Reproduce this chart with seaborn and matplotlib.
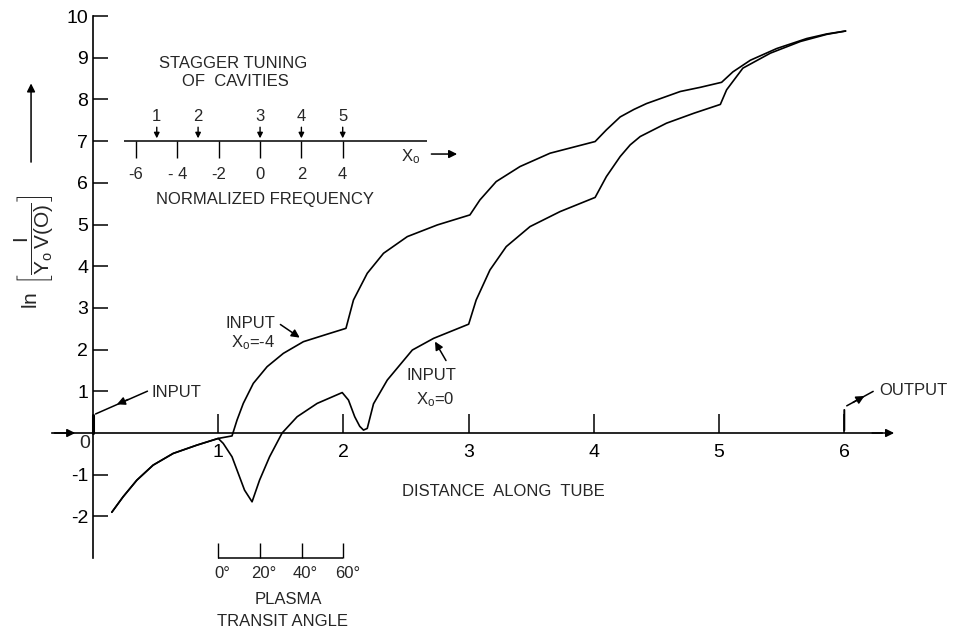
import pandas as pd
import matplotlib.pyplot as plt
import seaborn as sns

# curve points (distance along tube, ln gain)
shared_dist = [0.15, 0.24, 0.35, 0.48, 0.64, 0.83, 1.00]
shared_gain = [-1.90, -1.53, -1.13, -0.77, -0.49, -0.29, -0.13]

xm4_dist = [1.11, 1.15, 1.20, 1.28, 1.39, 1.52, 1.68, 1.87, 2.02, 2.08, 2.19, 2.32,
            2.51, 2.75, 3.01, 3.09, 3.22, 3.41, 3.65, 4.01, 4.10, 4.21, 4.32, 4.42,
            4.69, 4.85, 5.02, 5.11, 5.25, 5.46, 5.70, 5.86, 6.01]
xm4_gain = [-0.07, 0.31, 0.71, 1.19, 1.59, 1.91, 2.19, 2.37, 2.51, 3.19, 3.83, 4.31,
            4.71, 4.99, 5.23, 5.59, 6.03, 6.39, 6.71, 6.99, 7.27, 7.58, 7.76, 7.90,
            8.19, 8.29, 8.41, 8.66, 8.94, 9.22, 9.46, 9.57, 9.64]

x0_dist = [1.04, 1.11, 1.16, 1.21, 1.27, 1.33, 1.41, 1.51, 1.63, 1.79, 1.99, 2.04,
           2.09, 2.13, 2.16, 2.19, 2.24, 2.35, 2.55, 2.72, 3.00, 3.06, 3.17, 3.30,
           3.49, 3.73, 4.01, 4.10, 4.21, 4.29, 4.37, 4.58, 4.80, 5.01, 5.06, 5.19,
           5.41, 5.65, 5.86, 6.01]
x0_gain = [-0.25, -0.57, -0.97, -1.37, -1.65, -1.13, -0.57, 0.00, 0.39, 0.71, 0.97, 0.79,
           0.39, 0.16, 0.07, 0.11, 0.70, 1.27, 1.99, 2.27, 2.61, 3.19, 3.91, 4.47,
           4.95, 5.31, 5.65, 6.15, 6.63, 6.91, 7.11, 7.43, 7.67, 7.88, 8.23, 8.75,
           9.11, 9.39, 9.56, 9.64]

y_ticks = [-2, -1, 1, 2, 3, 4, 5, 6, 7, 8, 9, 10]
x_ticks = [1, 2, 3, 4, 5, 6]

# stagger tuning inset
freq_ticks = [-6, -4, -2, 0, 2, 4]
freq_labels = ["-6", "- 4", "-2", "0", "2", "4"]
cavity_freq = [-5, -3, 0, 2, 4]
cavity_labels = ["1", "2", "3", "4", "5"]

# plasma transit angle scale
angle_ticks = [0, 20, 40, 60]

df = pd.concat([
    pd.DataFrame({"distance": shared_dist + xm4_dist,
                  "gain": shared_gain + xm4_gain, "input": "X0=-4"}),
    pd.DataFrame({"distance": shared_dist + x0_dist,
                  "gain": shared_gain + x0_gain, "input": "X0=0"}),
])

sns.set_theme(style="white")
plt.rcParams["font.family"] = ["Liberation Sans", "DejaVu Sans"]
plt.rcParams["axes.unicode_minus"] = False
plt.rcParams["mathtext.fontset"] = "custom"
plt.rcParams["mathtext.rm"] = "Liberation Sans"
plt.rcParams["mathtext.it"] = "Liberation Sans"

fig = plt.figure(figsize=(9.57, 6.35), dpi=100)
ax = fig.add_axes([0, 0, 1, 1])

sns.lineplot(data=df, x="distance", y="gain", hue="input",
             palette={"X0=-4": "black", "X0=0": "black"},
             estimator=None, sort=False, lw=1.2, legend=False, ax=ax)

ax.set_xlim(-0.743, 6.90)
ax.set_ylim(-4.844, 10.384)
ax.set_xlabel("")
ax.set_ylabel("")

for s in ["top", "right"]:
    ax.spines[s].set_visible(False)
ax.spines["left"].set_position(("data", 0))
ax.spines["left"].set_bounds(-3, 10)
ax.spines["bottom"].set_position(("data", 0))
ax.spines["bottom"].set_bounds(-0.33, 6.3)
for s in ["left", "bottom"]:
    ax.spines[s].set_color("black")
    ax.spines[s].set_linewidth(1.2)

ax.set_yticks(y_ticks)
ax.set_yticklabels([str(v) for v in y_ticks])
ax.set_xticks(x_ticks)
ax.set_xticklabels([str(v) for v in x_ticks])
ax.tick_params(axis="y", direction="in", length=11, width=1.1, pad=3.5,
               labelsize=14, colors="black", left=True)
ax.tick_params(axis="x", direction="in", length=14, width=1.1, pad=8,
               labelsize=14, colors="black", bottom=True)
ax.text(-0.07, -0.26, "0", fontsize=14, ha="center", va="center")

arrow = dict(arrowstyle="-|>", color="black", lw=1.1, mutation_scale=12)
# axis arrows
ax.annotate("", xy=(6.42, 0), xytext=(6.2, 0), arrowprops=arrow)
ax.annotate("", xy=(-0.12, 0), xytext=(-0.33, 0), arrowprops=arrow)

ax.text(3.28, -1.41, "DISTANCE  ALONG  TUBE", fontsize=12, ha="center", va="center")

# y label with arrow
ax.text(-0.47, 4.35, r"$\ln\ \left[\dfrac{\mathrm{I}}{\mathrm{Y_o\,V(O)}}\right]$",
        rotation=90, fontsize=15, ha="center", va="center")
ax.annotate("", xy=(-0.495, 8.45), xytext=(-0.495, 6.43), arrowprops=arrow)

# INPUT at origin
ax.plot([0, 0], [0, 0.43], color="black", lw=2.2)
ax.annotate("", xy=(0, 0.43), xytext=(0.455, 1.03),
            arrowprops=dict(arrowstyle="-", color="black", lw=1.1))
ax.annotate("", xy=(0.17, 0.66), xytext=(0.3, 0.83), arrowprops=arrow)
ax.text(0.47, 0.96, "INPUT", fontsize=12, ha="left", va="center")

# OUTPUT
ax.annotate("", xy=(6.0, 0.62), xytext=(6.0, 0),
            arrowprops=dict(arrowstyle="-", color="black", lw=1.4))
ax.annotate("", xy=(6.25, 1.03), xytext=(6.0, 0.62),
            arrowprops=dict(arrowstyle="-", color="black", lw=1.1))
ax.annotate("", xy=(6.18, 0.92), xytext=(6.05, 0.70), arrowprops=arrow)
ax.text(6.28, 1.03, "OUTPUT", fontsize=12, ha="left", va="center")

# curve labels
ax.text(1.254, 2.63, "INPUT", fontsize=12, ha="center", va="center")
ax.text(1.28, 2.17, r"X$_\mathregular{o}$=-4", fontsize=12, ha="center", va="center")
ax.annotate("", xy=(1.669, 2.25), xytext=(1.478, 2.64), arrowprops=arrow)
ax.text(2.704, 1.38, "INPUT", fontsize=12, ha="center", va="center")
ax.text(2.73, 0.79, r"X$_\mathregular{o}$=0", fontsize=12, ha="center", va="center")
ax.annotate("", xy=(2.72, 2.25), xytext=(2.83, 1.68), arrowprops=arrow)


def inset_x(v):
    return 1.334 + 0.165 * v


ax.text(1.118, 8.85, "STAGGER TUNING", fontsize=12, ha="center", va="center")
ax.text(1.134, 8.44, "OF  CAVITIES", fontsize=12, ha="center", va="center")
ax.hlines(7.0, inset_x(-6.6), inset_x(8.1), color="black", lw=1.1)
ax.vlines([inset_x(v) for v in freq_ticks], 6.59, 7.0, color="black", lw=1.0)
for v, lab in zip(freq_ticks, freq_labels):
    ax.text(inset_x(v), 6.19, lab, fontsize=12, ha="center", va="center")
for v, lab in zip(cavity_freq, cavity_labels):
    ax.annotate("", xy=(inset_x(v), 7.0), xytext=(inset_x(v), 7.4),
                arrowprops=dict(arrowstyle="-|>", color="black", lw=1.0, mutation_scale=8))
    ax.text(inset_x(v), 7.6, lab, fontsize=12, ha="center", va="center")
ax.text(2.54, 6.62, r"X$_\mathregular{o}$", fontsize=12, ha="center", va="center")
ax.annotate("", xy=(2.93, 6.69), xytext=(2.68, 6.69), arrowprops=arrow)
ax.text(1.374, 5.61, "NORMALIZED FREQUENCY", fontsize=12, ha="center", va="center")


def angle_x(a):
    return 1 + a / 60


ax.hlines(-3.0, angle_x(0), angle_x(60), color="black", lw=1.1)
ax.vlines([angle_x(a) for a in angle_ticks], -3.0, -2.64, color="black", lw=1.0)
for a in angle_ticks:
    ax.text(angle_x(a) + 0.03, -3.36, f"{a}°", fontsize=12, ha="center", va="center")
ax.text(1.557, -4.0, "PLASMA", fontsize=12, ha="center", va="center")
ax.text(1.517, -4.53, "TRANSIT ANGLE", fontsize=12, ha="center", va="center")

fig.savefig("out.png", dpi=100, facecolor="white")
